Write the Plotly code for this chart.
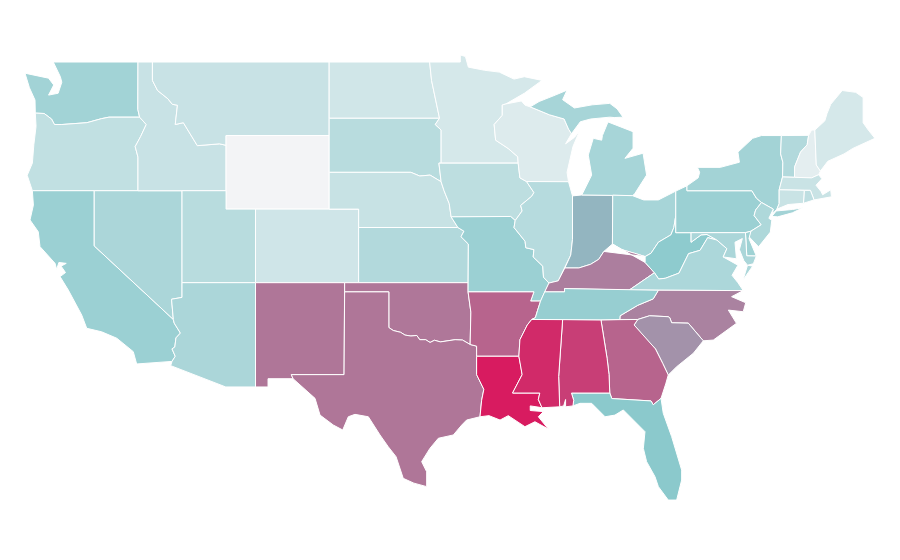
import plotly.graph_objects as go
from plotly.colors import sample_colorscale

# estimated value of each state (0..1 on the colour scale)
state_values = {"WA":.386,"OR":.238,"CA":.42,"NV":.345,"ID":.205,"MT":.205,"WY":.0,"UT":.28,"AZ":.345,"CO":.17,
 "NM":.739,"ND":.165,"SD":.28,"NE":.21,"KS":.31,"OK":.735,"TX":.739,"MN":.143,"IA":.257,"MO":.42,"AR":.79,"LA":1.0,
 "WI":.105,"IL":.29,"MI":.36,"IN":.557,"OH":.36,"KY":.715,"TN":.44,"MS":.957,"AL":.9,"GA":.79,"FL":.495,"SC":.658,
 "NC":.705,"VA":.338,"WV":.48,"PA":.42,"NY":.38,"VT":.31,"NH":.07,"ME":.143,"MA":.2,"CT":.2,"RI":.25,"NJ":.33,"DE":.4,"MD":.345}
colorscale = [[0,"#f3f4f6"],[.5,"#8ac9cc"],[1,"#d81b60"]]

# shared borders (lon, lat)
columbia=[(-124.0,46.22),(-123.4,46.2),(-122.9,45.9),(-122.7,45.6),(-122.2,45.6),(-121.2,45.65),(-120.5,45.7),(-119.5,45.92),(-119.0,46.0),(-116.92,46.0)]
snake=[(-116.92,46.0),(-116.47,45.6),(-116.85,44.95),(-117.22,44.4),(-117.03,43.83),(-117.03,42)]
idmt=[(-116.05,49),(-116.05,48.0),(-115.7,47.45),(-115.0,47.0),(-114.7,46.7),(-114.35,46.65),(-114.5,45.6),(-113.95,45.7),(-113.45,45.05),(-113.0,44.45),(-111.5,44.55),(-111.05,44.47)]
colorado=[(-114.63,35.0),(-114.57,34.8),(-114.15,34.26),(-114.45,34.0),(-114.53,33.5),(-114.72,33.4),(-114.5,33.0),(-114.72,32.72)]
red=[(-100,34.56),(-99.7,34.4),(-99.2,34.3),(-98.9,34.15),(-98.5,34.1),(-98.1,34.13),(-97.9,33.9),(-97.5,33.9),(-97.2,33.75),(-96.9,33.87),(-96.5,33.78),(-96.0,33.85),(-95.5,33.9),(-95.0,33.88),(-94.48,33.64)]
miss_upper=[(-91.22,43.5),(-91.1,42.7),(-90.65,42.5)]
miss_ia_il=[(-90.65,42.5),(-90.15,41.9),(-90.3,41.7),(-91.05,41.2),(-90.95,40.9),(-91.42,40.38)]
miss_mo_il=[(-91.42,40.38),(-91.5,40.0),(-90.75,39.25),(-90.7,38.9),(-90.15,38.8),(-90.2,38.4),(-89.55,37.9),(-89.5,37.3),(-89.13,36.98)]
miss_kytn=[(-89.13,36.98),(-89.42,36.5),(-89.7,36.0)]
miss_artn=[(-89.7,36.0),(-89.9,35.5),(-90.05,35.1),(-90.3,35.0)]
miss_arms=[(-90.3,35.0),(-90.6,34.7),(-91.1,33.9),(-91.17,33.0)]
miss_lams=[(-91.17,33.0),(-91.05,32.5),(-90.95,32.0),(-91.6,31.0)]
mo_ne=[(-96.45,42.49),(-96.25,42),(-95.9,41.3),(-95.77,40.58)]
mo_nemo=[(-95.77,40.58),(-95.31,40)]
mo_ksmo=[(-95.31,40),(-94.9,39.8),(-95.1,39.5),(-94.6,39.1),(-94.62,37)]
stcroix=[(-92.3,46.66),(-92.3,46.1),(-92.85,45.6),(-92.75,44.75),(-91.9,44.3),(-91.25,43.85),(-91.22,43.5)]
wabash=[(-87.53,39.35),(-87.65,38.5),(-88.05,37.8)]
ohio_ilky=[(-88.05,37.8),(-88.5,37.1),(-89.13,36.98)]
ohio_inky=[(-84.82,39.1),(-85.4,38.7),(-85.75,38.27),(-86.3,38.0),(-87.1,37.8),(-88.05,37.8)]
ohio_ohky=[(-82.6,38.42),(-83.3,38.6),(-84.2,38.8),(-84.82,39.1)]
ohio_ohwv=[(-80.52,40.64),(-80.65,40.0),(-80.85,39.6),(-81.7,39.2),(-82.2,38.6),(-82.6,38.42)]
vawv=[(-81.97,37.54),(-81.68,37.2),(-81.23,37.24),(-80.3,37.52),(-79.65,38.58),(-78.87,38.76),(-78.35,39.45),(-77.73,39.32)]
ncsc=[(-78.65,33.84),(-79.67,34.8),(-80.8,34.82),(-80.93,35.1),(-81.04,35.15),(-82.3,35.2),(-83.1,35.0)]
savannah=[(-83.1,35.0),(-83.35,34.7),(-82.6,34.0),(-81.9,33.4),(-81.4,32.6),(-81.03,31.98)]
chatt=[(-85.6,34.98),(-85.18,32.87),(-85.05,32),(-85.0,31.0)]
vtnh=[(-71.5,45.01),(-71.6,44.5),(-72.05,44.1),(-72.45,43.3),(-72.46,42.73)]
r=lambda b:b[::-1]

outlines = {
"WA":[[(-122.78,49),(-117.03,49),(-117.04,46.42),(-116.92,46.0)]+r(columbia)+[(-124.02,46.93),(-124.4,47.6),(-124.7,48.39),(-123.1,48.12),(-122.75,47.75),(-123.1,47.2),(-122.45,47.3),(-122.2,47.9),(-122.3,48.2),(-122.55,48.6)]],
"OR":[columbia+snake[1:]+[(-120,42),(-124.2,42),(-124.55,42.84),(-124.2,43.5),(-124.1,44.5),(-123.95,45.5)]],
"CA":[[(-124.2,42),(-120,42),(-120,39),(-114.63,35.0)]+colorado[1:]+[(-117.12,32.58),(-117.35,33.25),(-118.47,33.98),(-119.5,34.33),(-120.51,34.52),(-120.85,35.24),(-121.76,36.6),(-122.32,37.33),(-121.95,37.55),(-122.25,37.9),(-121.9,38.05),(-122.4,38.1),(-122.55,37.72),(-122.66,38.05),(-123.68,38.96),(-123.8,39.77),(-124.36,40.41),(-124.13,41.22)]],
"NV":[[(-120,42),(-114.04,42),(-114.04,36.2),(-114.75,36.1),(-114.63,35.0),(-120,39)]],
"ID":[[(-117.03,49),(-116.05,49)]+idmt[1:]+[(-111.05,42),(-117.03,42)]+r(snake)[1:]+[(-117.04,46.42)]],
"MT":[[(-116.05,49),(-104.05,49),(-104.05,45),(-111.05,45)]+r(idmt)],
"WY":[[(-111.05,45),(-104.05,45),(-104.05,41),(-111.05,41)]],
"UT":[[(-114.04,42),(-111.05,42),(-111.05,41),(-109.05,41),(-109.05,37),(-114.04,37)]],
"AZ":[[(-114.04,37),(-109.05,37),(-109.05,31.33),(-111.07,31.33),(-114.81,32.49)]+r(colorado)+[(-114.75,36.1),(-114.04,36.2)]],
"CO":[[(-109.05,41),(-102.05,41),(-102.05,37),(-109.05,37)]],
"NM":[[(-109.05,37),(-103,37),(-103.04,32),(-106.62,32),(-106.5,31.78),(-108.2,31.78),(-108.2,31.33),(-109.05,31.33)]],
"ND":[[(-104.05,49),(-97.23,49),(-97.1,48),(-96.56,45.94),(-104.05,45.94)]],
"SD":[[(-104.05,45.94),(-96.56,45.94),(-96.85,45.6),(-96.45,45.3),(-96.45,43.5),(-96.6,43.5),(-96.45,42.49),(-97.2,42.85),(-97.9,42.8),(-98.5,43),(-104.05,43)]],
"NE":[[(-104.05,43),(-98.5,43),(-97.9,42.8),(-97.2,42.85)]+mo_ne+mo_nemo[1:]+[(-102.05,40),(-102.05,41),(-104.05,41)]],
"KS":[[(-102.05,40)]+mo_nemo[1:]+mo_ksmo[1:]+[(-102.05,37)]],
"OK":[[(-103,37),(-94.62,37),(-94.62,36.5),(-94.43,35.4),(-94.48,33.64)]+r(red)[1:]+[(-100,36.5),(-103,36.5)]],
"TX":[[(-103,36.5),(-100,36.5)]+red+[(-94.04,33.55),(-94.04,33.0),(-94.04,32.0),(-93.55,31.2),(-93.7,30.6),(-93.81,29.71),(-94.72,29.53),(-95.05,29.26),(-95.62,28.72),(-96.64,28.54),(-97.21,27.99),(-97.77,27.27),(-97.43,26.72),(-97.43,25.91),(-98.3,26.1),(-99.02,26.36),(-99.51,27.54),(-100.04,28.08),(-100.6,28.72),(-101.39,29.71),(-102.3,29.84),(-102.75,29.71),(-103.13,28.99),(-103.77,29.26),(-104.67,29.8),(-105.01,30.71),(-106.03,31.44),(-106.5,31.78),(-106.62,32),(-103.04,32)]],
"MN":[[(-97.23,49),(-95.15,49),(-95.15,49.38),(-94.8,49.3),(-94.6,48.72),(-93.5,48.55),(-92.5,48.45),(-91.5,48.07),(-90.8,48.2),(-89.6,48.0),(-90.8,47.3),(-92.05,46.72)]+stcroix+[(-96.45,43.5),(-96.45,45.3),(-96.85,45.6),(-96.56,45.94),(-97.1,48)]],
"IA":[[(-96.45,43.5)]+miss_upper+miss_ia_il[1:]+[(-91.73,40.6),(-95.77,40.58)]+r(mo_ne)[1:-1]+[(-96.45,42.49),(-96.6,43.5)]],
"MO":[[(-95.77,40.58),(-91.73,40.6)]+miss_mo_il+miss_kytn[1:]+[(-90.37,36.0),(-90.15,36.5),(-94.62,36.5)]+r(mo_ksmo)+[(-95.77,40.58)]],
"AR":[[(-94.62,36.5),(-90.15,36.5),(-90.37,36.0)]+miss_artn+miss_arms[1:]+[(-94.04,33.0),(-94.04,33.55),(-94.48,33.64),(-94.43,35.4)]],
"LA":[[(-94.04,33.0)]+miss_lams+[(-89.75,31.0),(-89.85,30.65),(-89.6,30.2),(-89.75,30.22),(-90.4,30.3),(-90.4,30.05),(-89.9,30.02),(-89.51,29.99),(-89.85,29.71),(-89.17,29.04),(-90.08,29.44),(-90.76,29.17),(-91.89,29.77),(-92.45,29.53),(-93.2,29.77),(-93.81,29.71),(-93.7,30.6),(-93.55,31.2),(-94.04,32.0)]],
"WI":[[(-92.05,46.72),(-91,46.88),(-90.75,46.65),(-90.4,46.56),(-89.1,46.13),(-88.1,45.9),(-87.8,45.35),(-87.6,45.1),(-88.0,44.55),(-87.4,44.9),(-87.05,45.25),(-87.5,44.4),(-87.9,43.0),(-87.8,42.49),(-90.65,42.5)]+r(miss_upper)[1:]+r(stcroix)[1:]],
"IL":[[(-90.65,42.5),(-87.8,42.49),(-87.53,41.72)]+wabash+ohio_ilky[1:]+r(miss_mo_il)[1:]+r(miss_ia_il)[1:]],
"IN":[[(-87.53,41.72),(-87.2,41.75),(-86.9,41.77),(-84.8,41.76)]+ohio_inky+r(wabash)[1:]],
"MI":[[(-86.9,41.77),(-84.8,41.76),(-83.45,41.73),(-83.29,41.86),(-82.5,42.85),(-82.74,44.04),(-83.97,43.76),(-83.42,44.31),(-83.42,45.21),(-85.12,45.74),(-85.5,45.0),(-85.55,44.75),(-86.12,44.85),(-86.46,43.94),(-86.23,42.85)],
      [(-90.4,46.56),(-89.1,46.13),(-88.1,45.9),(-87.8,45.35),(-87.6,45.1),(-87.0,45.75),(-86.3,45.9),(-85.0,46.0),(-84.7,45.98),(-84.1,46.0),(-84.5,46.45),(-85.0,46.75),(-86.2,46.67),(-87.4,46.5),(-88.2,46.95),(-87.9,47.47),(-88.7,47.2),(-89.8,46.85)]],
"OH":[[(-84.8,41.76),(-83.45,41.73),(-82.7,41.5),(-81.7,41.5),(-80.52,41.98)]+ohio_ohwv+ohio_ohky[1:]],
"KY":[r(ohio_ohky)+ohio_inky[1:]+ohio_ilky[1:]+[(-89.42,36.5),(-88.07,36.5),(-88.07,36.68),(-83.68,36.6),(-81.97,37.54),(-82.6,38.1)]],
"WV":[[(-80.52,40.64),(-80.52,39.72),(-79.48,39.72),(-79.48,39.2),(-78.8,39.6),(-78.4,39.62),(-77.73,39.32)]+r(vawv)[1:]+[(-82.6,38.1)]+r(ohio_ohwv)[:-1]],
"VA":[[(-83.68,36.6)]+vawv+[(-77.05,38.85),(-77.3,38.4),(-76.3,37.95),(-76.7,37.4),(-76.3,37.0),(-75.94,36.57),(-81.7,36.59)],[(-75.95,37.15),(-75.65,37.95),(-75.3,37.9)]],
"NC":[[(-84.32,35.0),(-84.3,35.2),(-83.1,35.77),(-82.05,36.12),(-81.7,36.59),(-75.94,36.57),(-76.73,36.24),(-75.77,35.91),(-75.94,35.42),(-76.95,35.51),(-76.4,34.79),(-77.97,33.88)]+ncsc],
"SC":[savannah+[(-80.46,32.43),(-79.33,33.16)]+ncsc[:-1]],
"GA":[[(-85.6,34.98),(-84.32,35.0)]+savannah+[(-81.2,31.5),(-81.52,30.71),(-82.05,30.36),(-82.2,30.57),(-84.86,30.7)]+r(chatt)],
"FL":[[(-87.6,31.0),(-85.0,31.0),(-84.86,30.7),(-82.2,30.57),(-82.05,30.36),(-81.52,30.71),(-81.37,29.9),(-80.8,28.63),(-80.12,26.81),(-80.12,26.27),(-80.46,25.18),(-81.03,25.18),(-81.7,25.91),(-81.93,26.45),(-82.5,27.27),(-82.72,27.99),(-82.61,28.9),(-83.4,29.53),(-84.08,30.08),(-84.65,29.8),(-85.32,29.71),(-86.23,30.44),(-87.02,30.44),(-87.5,30.3),(-87.45,30.6)]],
"AL":[[(-88.2,35),(-85.6,34.98)]+chatt[1:]+[(-87.6,31.0),(-87.45,30.6),(-87.5,30.3),(-88.0,30.25),(-88.0,30.65),(-88.13,30.3),(-88.4,30.25),(-88.47,31.9)]],
"MS":[[(-90.3,35.0),(-88.2,35),(-88.47,31.9),(-88.4,30.25),(-89.6,30.2),(-89.85,30.65),(-89.75,31.0)]+r(miss_lams)+r(miss_arms)[1:]],
"TN":[[(-90.3,35.0)]+r(miss_artn)[1:]+[(-89.42,36.5),(-88.07,36.5),(-88.07,36.68),(-83.68,36.6),(-81.7,36.59),(-82.05,36.12),(-83.1,35.77),(-84.3,35.2),(-84.32,35.0),(-85.6,34.98),(-88.2,35)]],
"PA":[[(-80.52,41.98),(-79.76,42.27),(-79.76,42),(-75.35,42),(-75.05,41.6),(-74.7,41.36),(-75.1,40.95),(-75.2,40.65),(-74.72,40.15),(-75.42,39.8),(-75.79,39.72),(-80.52,39.72)]],
"NY":[[(-79.76,42.27),(-79.0,42.7),(-78.9,43.0),(-79.05,43.27),(-77.5,43.27),(-76.2,43.55),(-76.3,44.1),(-75.3,44.85),(-74.7,45),(-73.35,45),(-73.4,44),(-73.25,43.55),(-73.27,42.75),(-73.5,42.05),(-73.5,41.3),(-73.65,41.0),(-73.95,40.75),(-73.9,41.0),(-74.7,41.36),(-75.05,41.6),(-75.35,42),(-79.76,42)],
      [(-74.0,40.6),(-73.7,40.9),(-72.6,40.98),(-71.9,41.07),(-72.6,40.8),(-73.6,40.58)]],
"VT":[[(-73.35,45)]+vtnh+[(-73.27,42.75),(-73.25,43.55),(-73.4,44)]],
"NH":[vtnh[:1]+[(-71.3,45.3),(-71.08,45.3),(-70.98,43.4),(-70.7,43.07),(-70.82,42.87),(-71.3,42.7)]+r(vtnh)[:-1]],
"ME":[[(-71.08,45.3),(-70.4,45.8),(-70.25,46.2),(-70.0,46.7),(-69.22,47.45),(-68.3,47.35),(-67.8,47.07),(-67.8,45.7),(-67.45,45.3),(-67.0,44.85),(-68.5,44.3),(-69.1,44.0),(-70.2,43.6),(-70.7,43.07),(-70.98,43.4)]],
"MA":[[(-73.5,42.05),(-73.27,42.75),(-72.46,42.73),(-71.3,42.7),(-70.82,42.87),(-70.6,42.65),(-71.0,42.3),(-70.65,41.95),(-70.55,41.78),(-70.0,42.05),(-69.95,41.67),(-70.65,41.55),(-71.13,41.5),(-71.38,42.02),(-71.8,42.02)]],
"RI":[[(-71.8,42.02),(-71.38,42.02),(-71.13,41.5),(-71.85,41.32)]],
"CT":[[(-73.5,42.05),(-71.8,42.02),(-71.85,41.32),(-72.9,41.25),(-73.65,41.0),(-73.5,41.3)]],
"NJ":[[(-74.7,41.36),(-73.9,41.0),(-74.2,40.5),(-74.0,40.4),(-74.1,39.75),(-74.9,38.95),(-75.55,39.5),(-75.42,39.8),(-74.72,40.15),(-75.2,40.65),(-75.1,40.95)]],
"DE":[[(-75.79,39.72),(-75.42,39.8),(-75.55,39.4),(-75.05,38.45),(-75.7,38.46)]],
"MD":[[(-79.48,39.72),(-75.79,39.72),(-75.7,38.46),(-75.05,38.45),(-75.25,38.03),(-75.65,37.95),(-75.9,38.2),(-76.2,38.8),(-76.0,39.4),(-76.5,39.2),(-76.4,38.3),(-77.3,38.4),(-77.05,38.85),(-77.73,39.32),(-78.4,39.62),(-78.8,39.6),(-79.48,39.2)]],
}

fig = go.Figure()
for code, rings in outlines.items():
    lon, lat = [], []
    for ring in rings:
        lon += [p[0] for p in ring] + [ring[0][0], None]
        lat += [p[1] for p in ring] + [ring[0][1], None]
    fig.add_trace(go.Scatter(x=lon, y=lat, mode="lines", fill="toself", name=code,
        fillcolor=sample_colorscale(colorscale, [state_values[code]], colortype="rgb")[0],
        line=dict(color="#ffffff", width=1), hoveron="fills", showlegend=False))
fig.update_xaxes(visible=False, range=[-125.854,-64.754])
fig.update_yaxes(visible=False, range=[21.486,51.936])
fig.update_layout(width=900, height=560, margin=dict(l=0,r=0,t=0,b=0), paper_bgcolor="white", plot_bgcolor="white")
fig.write_html("out.html")
